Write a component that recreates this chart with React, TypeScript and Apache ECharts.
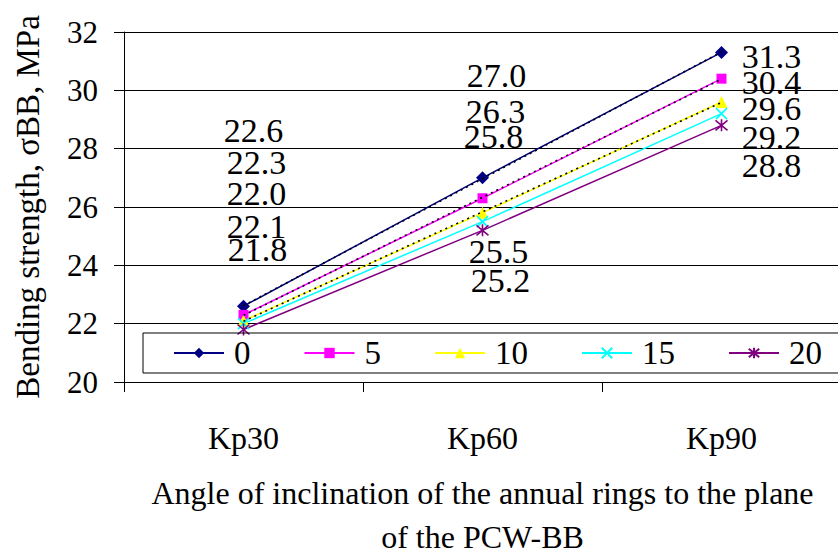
import React, { useEffect, useRef } from "react";
import * as echarts from "echarts";

const categories = ["Kp30", "Kp60", "Kp90"];
const seriesNames = ["0", "5", "10", "15", "20"];
const values0 = [22.6, 27.0, 31.3];
const values5 = [22.3, 26.3, 30.4];
const values10 = [22.1, 25.8, 29.6];
const values15 = [22.0, 25.5, 29.2];
const values20 = [21.8, 25.2, 28.8];
const yMin = 20;
const yMax = 32;
const yStep = 2;
const xTitleLines = ["Angle of inclination of the annual rings to the plane", "of the PCW-BB"];
const yTitle = "Bending strength, σBB, MPa";

// layout: label offsets (px) relative to each point, per series / category
const labelOffsets = [
  [[10, -176], [14, -102], [50, 4]],
  [[13, -152], [13, -87], [50, 4]],
  [[13, -94], [11, -76], [50, 6]],
  [[13, -130], [16, 30], [50, 24]],
  [[14, -80], [18, 50], [50, 40]],
];

const colors = ["#000080", "#FF00FF", "#FFFF00", "#00FFFF", "#800080"];
const symbols = [
  "diamond",
  "rect",
  "triangle",
  "path://M0,0L10,10M10,0L0,10",
  "path://M0,0L10,10M10,0L0,10M5,-1L5,11",
];
const symbolSizes = [13, 10, 12, 11, 12];
const FONT = '"Liberation Serif", "Times New Roman", serif';

function linearFit(v: number[]): number[] {
  const n = v.length;
  const xs = v.map((_, i) => i);
  const mx = xs.reduce((a, b) => a + b, 0) / n;
  const my = v.reduce((a, b) => a + b, 0) / n;
  let num = 0;
  let den = 0;
  for (let i = 0; i < n; i++) {
    num += (xs[i] - mx) * (v[i] - my);
    den += (xs[i] - mx) * (xs[i] - mx);
  }
  const slope = num / den;
  return xs.map((x) => my + slope * (x - mx));
}

export default function App() {
  const ref = useRef<HTMLDivElement>(null);
  useEffect(() => {
    if (!ref.current) return;
    const chart = echarts.init(ref.current, undefined, { renderer: "svg" });
    const all = [values0, values5, values10, values15, values20];
    const mainSeries = all.map((vals, si) => ({
      name: seriesNames[si],
      type: "line",
      data: vals.map((v, ci) => ({
        value: v,
        label: {
          show: true,
          position: "inside",
          offset: labelOffsets[si][ci],
          formatter: (p: any) => Number(p.value).toFixed(1),
          color: "#000",
          fontSize: 34,
          fontFamily: FONT,
          align: "center",
          verticalAlign: "middle",
        },
      })),
      symbol: symbols[si],
      symbolSize: symbolSizes[si],
      showAllSymbol: true,
      lineStyle: { color: colors[si], width: 1.5 },
      itemStyle: {
        color: colors[si],
        borderColor: colors[si],
        borderWidth: si >= 3 ? 1.6 : 0,
      },
      emphasis: { disabled: true },
      z: 3,
    }));
    const trendSeries = [values0, values5, values10].map((vals, i) => ({
      name: "trend" + i,
      type: "line",
      data: linearFit(vals),
      symbol: "none",
      silent: true,
      lineStyle: { color: "#000", width: 1.6, type: [2, 4] },
      emphasis: { disabled: true },
      z: 4,
    }));
    chart.setOption({
      animation: false,
      backgroundColor: "#fff",
      textStyle: { fontFamily: FONT },
      grid: {
        left: 124,
        top: 32,
        right: -3,
        bottom: 176,
        containLabel: false,
        outerBoundsMode: "none",
      },
      legend: {
        data: seriesNames,
        left: 143,
        top: 333,
        width: 760,
        orient: "horizontal",
        padding: [2, 40, 2, 30],
        itemGap: 53,
        itemWidth: 50,
        itemHeight: 13,
        borderColor: "#000",
        borderWidth: 1,
        borderRadius: 0,
        backgroundColor: "transparent",
        textStyle: {
          fontSize: 33,
          lineHeight: 36,
          fontFamily: FONT,
          color: "#000",
          padding: [0, 0, 0, 5],
        },
        selectedMode: false,
      },
      xAxis: {
        type: "category",
        data: categories,
        boundaryGap: true,
        axisLine: { show: true, lineStyle: { color: "#000", width: 1 } },
        axisTick: { show: true, length: 10, lineStyle: { color: "#000" } },
        axisLabel: { fontSize: 32, fontFamily: FONT, color: "#000", margin: 40 },
        name: "{a|" + xTitleLines[0] + "}\n{b|" + xTitleLines[1] + "}",
        nameLocation: "middle",
        nameGap: 83,
        nameTextStyle: {
          fontSize: 32,
          fontFamily: FONT,
          color: "#000",
          rich: {
            a: { fontSize: 32, fontFamily: FONT, color: "#000", lineHeight: 56 },
            b: { fontSize: 32, fontFamily: FONT, color: "#000", lineHeight: 32 },
          },
        },
        splitLine: { show: false },
      },
      yAxis: {
        type: "value",
        min: yMin,
        max: yMax,
        interval: yStep,
        axisLine: { show: true, lineStyle: { color: "#000", width: 1 } },
        axisTick: { show: true, length: 10, lineStyle: { color: "#000" } },
        axisLabel: { fontSize: 31, fontFamily: FONT, color: "#000", margin: 26 },
        splitLine: { show: true, lineStyle: { color: "#000", width: 1 } },
        name: yTitle,
        nameLocation: "middle",
        nameGap: 80,
        nameTextStyle: { fontSize: 33, fontFamily: FONT, color: "#000" },
      },
      series: [...mainSeries, ...trendSeries],
    });
    return () => chart.dispose();
  }, []);
  return (
    <div
      ref={ref}
      style={{ position: "fixed", left: 0, top: 0, width: 838, height: 558 }}
    />
  );
}
